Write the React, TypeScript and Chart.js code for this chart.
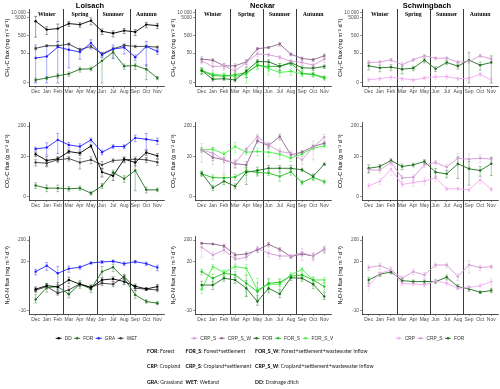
import React, { useEffect, useRef } from 'react';
import { Chart, LinearScale, registerables } from 'chart.js';

// ---------- categories / labels ----------
const MONTHS = ['Dec', 'Jan', 'Feb', 'Mar', 'Apr', 'May', 'Jun', 'Jul', 'Aug', 'Sep', 'Oct', 'Nov'];
const SEASONS = ['Winter', 'Spring', 'Summer', 'Autumn'];
const SEASON_AT = [1, 4, 7, 10];
const SEASON_BREAKS = [2.5, 5.5, 8.5];
const SITES = ['Loisach', 'Neckar', 'Schwingbach'];
const SITE_KEYS = [
  ['DD', 'FOR', 'GRA', 'WET'],
  ['CRP_S', 'CRP_S_W', 'FOR', 'FOR_S', 'FOR_S_W'],
  ['CRP', 'CRP_S', 'FOR'],
];
const CH4_TICKS = [0, 50, 500, 5000, 10000];
const CH4_TICK_LABELS = ['0', '50', '500', '5000', '10 000'];
const CO2_TICKS = [0, 20, 200];
const CO2_TICK_LABELS = ['0', '20', '200'];
const N2O_TICKS = [-10, 20, 200];
const N2O_TICK_LABELS = ['-10', '20', '200'];
const Y_TITLES = ['CH\u2084-C flux (mg m\u207B\u00B2 d\u207B\u00B9)', 'CO\u2082-C flux (g m\u207B\u00B2 d\u207B\u00B9)', 'N\u2082O-N flux (mg m\u207B\u00B2 d\u207B\u00B9)'];

// ---------- Loisach ----------
const L_CH4_DD = [3200, 1070, 1220, 2350, 2060, 3490, 860, 660, 940, 790, 2060, 1810];
const L_CH4_DD_ERR = [2800, 500, 1000, 700, 600, 1500, 300, 250, 300, 300, 700, 600];
const L_CH4_FOR = [0.8, 1.4, 2.2, 3.0, 5.9, 6.2, 18, 56, 8.9, 9.7, 5.9, 1.4];
const L_CH4_FOR_ERR = [0.5, 0.5, 0.8, 1, 2, 1.5, 25, 30, 3, 4, 5, 0.5];
const L_CH4_GRA = [26, 32, 109, 77, 57, 185, 40, 84, 104, 29, 119, 62];
const L_CH4_GRA_ERR = [120, 87, 120, 70, 35, 100, 12, 60, 60, 10, 110, 20];
const L_CH4_WET = [92, 130, 130, 162, 77, 119, 45, 88, 136, 119, 119, 109];
const L_CH4_WET_ERR = [15, 15, 15, 20, 15, 20, 10, 20, 20, 20, 20, 15];

const L_CO2_DD = [24, 14.9, 16.9, 29.3, 25.9, 44.9, 6.1, 4.5, 16.5, 12.8, 27.2, 21.2];
const L_CO2_DD_ERR = [4, 5, 3, 4, 4, 6, 2, 1.5, 3, 3, 5, 4];
const L_CO2_FOR = [1.85, 1.34, 1.34, 1.22, 1.34, 0.5, 1.78, 5.9, 3.55, 6.9, 1.04, 1.04];
const L_CO2_FOR_ERR = [0.6, 0.6, 0.6, 0.4, 0.4, 0.3, 0.5, 1.2, 1, 6, 0.5, 0.3];
const L_CO2_GRA = [35.8, 39.6, 70.4, 48.4, 42.7, 70.4, 27.9, 42.7, 42.7, 81.8, 74.1, 65.3];
const L_CO2_GRA_ERR = [5, 17, 45, 10, 10, 10, 5, 6, 6, 20, 40, 15];
const L_CO2_WET = [12.8, 12.2, 15.7, 17.3, 12.8, 15.7, 10.7, 14.9, 15.7, 16.5, 15.7, 13.1];
const L_CO2_WET_ERR = [3, 3, 3, 3, 5, 4, 3, 2, 3, 3, 3, 3];

const L_N2O_DD = [-0.02, 0.76, 0.47, 2.31, 1.09, 0.32, 2.31, 2.66, 1.8, 0.62, 0.02, 0.54];
const L_N2O_DD_ERR = [0.5, 0.5, 0.5, 1, 0.5, 0.5, 0.8, 0.8, 0.8, 0.5, 0.3, 0.5];
const L_N2O_FOR = [-2.77, 0.32, 0.54, -1.17, 1.17, 0.02, 6.4, 10.4, 2.9, -1.34, -3.58, -4.39];
const L_N2O_FOR_ERR = [1.5, 1, 1, 1, 1, 0.8, 5, 4, 1.5, 1, 0.8, 0.8];
const L_N2O_GRA = [6.4, 12.5, 5.3, 9.0, 10.4, 16.7, 18.6, 20.1, 15.5, 19.3, 15.5, 10.1];
const L_N2O_GRA_ERR = [2, 5, 6, 3, 2, 2, 3, 3, 3, 3, 3, 3];
const L_N2O_WET = [-0.25, 0.54, -0.92, -0.18, 1.17, 0.4, 1.34, 1.09, 3.58, 0.18, -0.02, -0.18];
const L_N2O_WET_ERR = [0.5, 0.5, 0.5, 0.8, 0.5, 0.5, 0.6, 0.6, 1, 0.5, 0.3, 0.4];

// ---------- Neckar ----------
const N_CH4_CRP_S = [18, 8.5, 8.9, 4.6, 14.5, 45, 40, 29, 16.5, 14.5, 10.2, 22.4];
const N_CH4_CRP_S_ERR = [6, 4, 4, 3, 6, 15, 8, 7, 5, 4, 3, 8];
const N_CH4_CRP_S_W = [22.4, 19.7, 9.3, 9.3, 15.8, 88, 104, 162, 43, 24.6, 20.6, 35];
const N_CH4_CRP_S_W_ERR = [8, 4, 3, 3, 5, 15, 15, 40, 8, 5, 4, 10];
const N_CH4_FOR = [4.9, 1.0, 1.2, 0.8, 4.6, 16.5, 15.8, 8.9, 14.5, 7.1, 6.8, 8.5];
const N_CH4_FOR_ERR = [2, 0.5, 0.5, 0.5, 3, 5, 5, 4, 4, 2, 2, 2];
const N_CH4_FOR_S = [4.9, 2.3, 2.0, 2.6, 3.6, 9.7, 8.5, 8.5, 13.2, 3.2, 2.8, 1.6];
const N_CH4_FOR_S_ERR = [2, 1, 1, 1, 2, 4, 4, 4, 4, 1, 1, 0.5];
const N_CH4_FOR_S_W = [4.9, 2.8, 2.4, 2.0, 2.8, 11, 6.5, 3.7, 4.4, 3.0, 2.7, 1.2];
const N_CH4_FOR_S_W_ERR = [2, 1, 1, 1, 3, 4, 4, 2, 2, 1, 1, 0.5];

const N_CO2_CRP_S = [33.2, 25.9, 15.7, 12.2, 34.9, 90.5, 48.4, 29.3, 25.9, 15.7, 40.6, 86];
const N_CO2_CRP_S_ERR = [20, 15, 10, 4, 5, 15, 10, 8, 5, 5, 25, 20];
const N_CO2_CRP_S_W = [33.2, 18.7, 15.7, 11.6, 10.7, 65.3, 46, 90.5, 22.8, 27.9, 42.7, 54.8];
const N_CO2_CRP_S_W_ERR = [5, 4, 3, 3, 3, 10, 8, 20, 4, 4, 5, 6];
const N_CO2_FOR = [5.6, 1.4, 2.8, 1.7, 6.05, 6.9, 8.2, 8.2, 8.2, 7.3, 4.3, 11.3];
const N_CO2_FOR_ERR = [1, 0.5, 0.8, 0.5, 4, 2, 2, 2, 2, 1, 1, 1];
const N_CO2_FOR_S = [5.3, 3.9, 3.8, 4.1, 6.7, 5.9, 5.6, 4.3, 6.2, 2.5, 4.0, 2.7];
const N_CO2_FOR_S_ERR = [1, 1, 1, 1, 2, 1.5, 1, 1.5, 1.5, 0.5, 1, 0.5];
const N_CO2_FOR_S_W = [33.2, 34.9, 24.6, 42.7, 27.9, 29.3, 27.9, 24, 17.8, 24.6, 37.7, 44.9];
const N_CO2_FOR_S_W_ERR = [5, 5, 4, 15, 5, 8, 8, 8, 4, 4, 5, 6];

const N_N2O_CRP_S = [91, 39.7, 68, 24.9, 30.9, 81.5, 47.5, 35.6, 35.6, 51, 35.6, 75.9];
const N_N2O_CRP_S_ERR = [60, 15, 20, 10, 8, 20, 15, 10, 8, 30, 15, 30];
const N_N2O_CRP_S_W = [140, 130, 105, 39.7, 44.3, 68, 125, 73, 33.2, 44.3, 35.6, 73];
const N_N2O_CRP_S_W_ERR = [15, 10, 20, 10, 10, 15, 30, 15, 5, 8, 10, 20];
const N_N2O_FOR = [0.9, 0.9, 2.9, 2.31, 0.18, -3.58, 0.18, -1.09, 3.11, 2.9, 1.09, -1.8];
const N_N2O_FOR_ERR = [1, 1, 1, 1, 2, 2, 1, 1, 1, 1, 1, 1];
const N_N2O_FOR_S = [6.4, 2.9, 5.3, 4.4, 1.34, -0.54, 1.34, 1.61, 3.7, 4.4, 2.31, 0.54];
const N_N2O_FOR_S_ERR = [2, 2, 2, 2, 3, 2, 1.5, 1, 1, 1, 1, 1];
const N_N2O_FOR_S_W = [-0.02, 11.2, 5.74, 11.2, 9.3, -0.18, 1.09, 1.09, 4.4, 8.3, 2.31, 2.31];
const N_N2O_FOR_S_W_ERR = [1, 3, 2, 3, 5, 3, 1.5, 1.5, 1.5, 2, 1, 1];

// ---------- Schwingbach ----------
const S_CH4_CRP = [0.9, 1.2, 1.6, 1.2, 0.8, 1.4, 1.8, 1.8, 1.2, 1.3, 2.8, 0.8];
const S_CH4_CRP_ERR = [0.5, 0.5, 0.8, 0.5, 0.5, 0.5, 0.8, 0.8, 0.5, 0.5, 1, 0.8];
const S_CH4_CRP_S = [14.5, 15.2, 20.6, 10.7, 20.6, 35, 25.7, 25.7, 15.2, 16.5, 35, 22.4];
const S_CH4_CRP_S_ERR = [4, 4, 5, 4, 4, 6, 5, 5, 4, 4, 8, 5];
const S_CH4_FOR = [9.3, 7.1, 7.8, 5.9, 6.8, 19.7, 6.2, 14.5, 8.9, 19.7, 10.2, 14.5];
const S_CH4_FOR_ERR = [4, 3, 3, 3, 2, 6, 2, 4, 3, 35, 5, 20];

const S_CO2_CRP = [1.78, 2.8, 7.7, 2.05, 2.5, 2.9, 3.8, 1.22, 1.22, 1.04, 3.2, 1.13];
const S_CO2_CRP_ERR = [0.5, 0.8, 3, 0.5, 0.8, 1, 1, 0.3, 0.3, 0.3, 1, 0.3];
const S_CO2_CRP_S = [7.3, 7.1, 13.1, 3.8, 4.0, 10.7, 12.8, 9.0, 17.8, 16.5, 17.8, 16.5];
const S_CO2_CRP_S_ERR = [1.5, 1.5, 2, 1, 1, 2, 2, 2, 8, 8, 5, 3];
const S_CO2_FOR = [8.2, 9.4, 14.9, 9.4, 10.7, 13.8, 6.05, 5.3, 11.6, 7.9, 6.9, 11.6];
const S_CO2_FOR_ERR = [2.5, 1.5, 2, 2, 1.5, 2, 2, 1.5, 8, 6, 2.5, 7];

const S_N2O_CRP = [0.76, 5.3, 7.8, 1.34, 1.17, 0.9, 1.99, 1.34, 0.18, 0.32, 0.76, 1.8];
const S_N2O_CRP_ERR = [1, 1.5, 2, 0.5, 0.5, 0.5, 0.5, 0.5, 0.3, 0.5, 0.5, 1];
const S_N2O_CRP_S = [10.1, 12.5, 7.8, 2.9, 6.4, 4.4, 13.4, 13.4, 3.58, 13.4, 10.1, 11.2];
const S_N2O_CRP_S_ERR = [3, 4, 3, 1, 2, 1.5, 3, 3, 1.5, 8, 3, 2];
const S_N2O_FOR = [2.31, 4.74, 6.2, 2.1, 1.8, 1.8, 1.8, 3.3, 0.54, 0.02, -0.69, -0.32];
const S_N2O_FOR_ERR = [1, 1, 1, 0.5, 0.5, 0.5, 0.5, 1, 0.5, 0.5, 0.3, 0.5];

// ---------- glossary ----------
const GLOSSARY = [
  [['FOR', 'Forest'], ['FOR_S', 'Forest+settlement'], ['FOR_S_W', 'Forest+settlement+wastewater inflow']],
  [['CRP', 'Cropland'], ['CRP_S', 'Cropland+settlement'], ['CRP_S_W', 'Cropland+settlement+wastewater inflow']],
  [['GRA', 'Grassland'], ['WET', 'Wetland'], ['DD', 'Drainage ditch']],
];

// ---------- styles ----------
const COLORS: Record<string, string> = {
  DD: '#000000', WET: '#3c3c3c', FOR: '#1e701e', GRA: '#2020ff',
  CRP: '#f0a8f0', CRP_S: '#d39ad3', CRP_S_W: '#8f668f', FOR_S: '#20c020', FOR_S_W: '#44f044',
};
const FONT = '"Liberation Sans", Arial, sans-serif';

// data table [row][col] -> key -> [values, errors]
const TABLE: Record<string, [number[], number[]]>[][] = [
  [
    { DD: [L_CH4_DD, L_CH4_DD_ERR], FOR: [L_CH4_FOR, L_CH4_FOR_ERR], GRA: [L_CH4_GRA, L_CH4_GRA_ERR], WET: [L_CH4_WET, L_CH4_WET_ERR] },
    { CRP_S: [N_CH4_CRP_S, N_CH4_CRP_S_ERR], CRP_S_W: [N_CH4_CRP_S_W, N_CH4_CRP_S_W_ERR], FOR: [N_CH4_FOR, N_CH4_FOR_ERR], FOR_S: [N_CH4_FOR_S, N_CH4_FOR_S_ERR], FOR_S_W: [N_CH4_FOR_S_W, N_CH4_FOR_S_W_ERR] },
    { CRP: [S_CH4_CRP, S_CH4_CRP_ERR], CRP_S: [S_CH4_CRP_S, S_CH4_CRP_S_ERR], FOR: [S_CH4_FOR, S_CH4_FOR_ERR] },
  ],
  [
    { DD: [L_CO2_DD, L_CO2_DD_ERR], FOR: [L_CO2_FOR, L_CO2_FOR_ERR], GRA: [L_CO2_GRA, L_CO2_GRA_ERR], WET: [L_CO2_WET, L_CO2_WET_ERR] },
    { CRP_S: [N_CO2_CRP_S, N_CO2_CRP_S_ERR], CRP_S_W: [N_CO2_CRP_S_W, N_CO2_CRP_S_W_ERR], FOR: [N_CO2_FOR, N_CO2_FOR_ERR], FOR_S: [N_CO2_FOR_S, N_CO2_FOR_S_ERR], FOR_S_W: [N_CO2_FOR_S_W, N_CO2_FOR_S_W_ERR] },
    { CRP: [S_CO2_CRP, S_CO2_CRP_ERR], CRP_S: [S_CO2_CRP_S, S_CO2_CRP_S_ERR], FOR: [S_CO2_FOR, S_CO2_FOR_ERR] },
  ],
  [
    { DD: [L_N2O_DD, L_N2O_DD_ERR], FOR: [L_N2O_FOR, L_N2O_FOR_ERR], GRA: [L_N2O_GRA, L_N2O_GRA_ERR], WET: [L_N2O_WET, L_N2O_WET_ERR] },
    { CRP_S: [N_N2O_CRP_S, N_N2O_CRP_S_ERR], CRP_S_W: [N_N2O_CRP_S_W, N_N2O_CRP_S_W_ERR], FOR: [N_N2O_FOR, N_N2O_FOR_ERR], FOR_S: [N_N2O_FOR_S, N_N2O_FOR_S_ERR], FOR_S_W: [N_N2O_FOR_S_W, N_N2O_FOR_S_W_ERR] },
    { CRP: [S_N2O_CRP, S_N2O_CRP_ERR], CRP_S: [S_N2O_CRP_S, S_N2O_CRP_S_ERR], FOR: [S_N2O_FOR, S_N2O_FOR_ERR] },
  ],
];

const ROW_CFG = [
  { ticks: CH4_TICKS, labels: CH4_TICK_LABELS, lim: [0, 10000], floor: 0 },
  { ticks: CO2_TICKS, labels: CO2_TICK_LABELS, lim: [0, 200], floor: 0 },
  { ticks: N2O_TICKS, labels: N2O_TICK_LABELS, lim: [-10, 200], floor: -1e9 },
];

// layout
const COL_LEFT = [0, 166, 333];
const COL_W = [166, 167, 167];
const ROW_TOP = [0, 104, 218];
const ROW_H = [104, 114, 171];
const PAD_TOP = [9, 18.5, 18.5];
const X_AXIS_H = [17.5, 18, 75];
const TITLE_X = [90, 262.5, 427];

// ---------- pseudo-log scale (asinh, sigma 1, base 10) ----------
const tf = (v: number) => Math.asinh(v / 2) / Math.LN10;
const itf = (t: number) => 2 * Math.sinh(t * Math.LN10);

class PseudoLogScale extends LinearScale {
  static id = 'pseudoLog';
  static defaults = LinearScale.defaults;
  getPixelForValue(value: number) {
    const a = tf(this.min as number);
    const b = tf(this.max as number);
    return this.getPixelForDecimal((tf(value) - a) / (b - a));
  }
  getValueForPixel(pixel: number) {
    const a = tf(this.min as number);
    const b = tf(this.max as number);
    return itf(a + this.getDecimalForPixel(pixel) * (b - a));
  }
}

const decoPlugin = {
  id: 'deco',
  beforeDatasetsDraw(chart: any, _a: any, opts: any) {
    const { ctx, chartArea, scales } = chart;
    const x = scales.x;
    const y = scales.y;
    // season dividers
    const y0 = opts.row === 0 ? chartArea.top : 0;
    const y1 = opts.row === 2 ? chartArea.bottom : chart.height;
    ctx.save();
    ctx.strokeStyle = '#3a3a3a';
    ctx.lineWidth = 1;
    SEASON_BREAKS.forEach((b) => {
      const px = Math.round(x.getPixelForValue(b)) + 0.5;
      ctx.beginPath();
      ctx.moveTo(px, y0);
      ctx.lineTo(px, y1);
      ctx.stroke();
    });
    ctx.restore();
    // error bars
    ctx.save();
    ctx.beginPath();
    ctx.rect(chartArea.left, chartArea.top, chartArea.right - chartArea.left, chartArea.bottom - chartArea.top);
    ctx.clip();
    chart.data.datasets.forEach((ds: any) => {
      ctx.strokeStyle = ds.errColor;
      ctx.lineWidth = 0.7;
      ds.data.forEach((p: any, i: number) => {
        const e = ds.errs[i];
        const lo = Math.max(p.y - e, opts.floor);
        const hi = p.y + e;
        const px = x.getPixelForValue(p.x);
        const pl = y.getPixelForValue(lo);
        const ph = y.getPixelForValue(hi);
        ctx.beginPath();
        ctx.moveTo(px, pl); ctx.lineTo(px, ph);
        ctx.moveTo(px - 1.5, pl); ctx.lineTo(px + 1.5, pl);
        ctx.moveTo(px - 1.5, ph); ctx.lineTo(px + 1.5, ph);
        ctx.stroke();
      });
    });
    ctx.restore();
  },
  afterDraw(chart: any, _a: any, opts: any) {
    const { ctx, chartArea, scales } = chart;
    const x = scales.x;
    ctx.save();
    if (opts.row === 0) {
      ctx.fillStyle = '#000';
      ctx.textAlign = 'center';
      ctx.textBaseline = 'middle';
      ctx.font = `bold 7.5px ${FONT}`;
      ctx.fillText(opts.title, opts.titleX, 6);
      ctx.font = 'bold 5.8px "Liberation Serif", "DejaVu Serif", serif';
      SEASONS.forEach((s, i) => {
        ctx.fillText(s, x.getPixelForValue(SEASON_AT[i]), chartArea.top + 6);
      });
    }
    if (opts.row === 2) {
      ctx.font = `4.8px ${FONT}`;
      ctx.textBaseline = 'middle';
      ctx.textAlign = 'left';
      const items = chart.data.datasets.map((d: any) => ({ label: d.label, color: d.borderColor }));
      const widths = items.map((it: any) => 9 + ctx.measureText(it.label).width + 2.5);
      const total = widths.reduce((a: number, b: number) => a + b, 0) - 2.5;
      let cx = (chartArea.left + chartArea.right) / 2 - total / 2;
      const ly = opts.legendY;
      items.forEach((it: any, i: number) => {
        ctx.strokeStyle = it.color;
        ctx.fillStyle = it.color;
        ctx.lineWidth = 0.9;
        ctx.beginPath();
        ctx.moveTo(cx, ly); ctx.lineTo(cx + 6, ly);
        ctx.stroke();
        ctx.beginPath();
        ctx.arc(cx + 3, ly, 1.2, 0, Math.PI * 2);
        ctx.fill();
        ctx.fillStyle = '#333';
        ctx.fillText(it.label, cx + 9, ly);
        cx += widths[i];
      });
    }
    ctx.restore();
  },
};

Chart.register(...registerables, PseudoLogScale as any, decoPlugin as any);

function hexA(hex: string, a: number) {
  const n = parseInt(hex.slice(1), 16);
  return `rgba(${(n >> 16) & 255},${(n >> 8) & 255},${n & 255},${a})`;
}

function makeConfig(row: number, col: number): any {
  const cfg = ROW_CFG[row];
  const a = tf(cfg.lim[0]);
  const b = tf(cfg.lim[1]);
  const d = 0.05 * (b - a);
  const keys = SITE_KEYS[col];
  const table = TABLE[row][col];
  const datasets = keys.map((k) => {
    const [vals, errs] = table[k];
    return {
      label: k,
      data: vals.map((v, i) => ({ x: i, y: v })),
      errs,
      errColor: hexA(COLORS[k], 0.55),
      borderColor: COLORS[k],
      backgroundColor: COLORS[k],
      borderWidth: 0.9,
      pointRadius: 1.2,
      pointBorderWidth: 0,
      pointHoverRadius: 1.2,
      tension: 0,
      clip: 3,
    };
  });
  const tickColor = '#4d4d4d';
  return {
    type: 'line',
    data: { datasets },
    options: {
      animation: false,
      responsive: false,
      devicePixelRatio: 1,
      events: [],
      layout: { padding: { top: PAD_TOP[row], right: 2, left: 0, bottom: 0 } },
      plugins: {
        legend: { display: false },
        tooltip: { enabled: false },
        deco: {
          row,
          title: SITES[col],
          titleX: TITLE_X[col] - COL_LEFT[col],
          floor: cfg.floor,
          legendY: 338.3 - ROW_TOP[2],
        },
      },
      scales: {
        x: {
          type: 'linear',
          min: -0.6,
          max: 11.6,
          afterBuildTicks: (s: any) => { s.ticks = MONTHS.map((_, i) => ({ value: i })); },
          afterFit: (s: any) => { s.height = X_AXIS_H[row]; },
          ticks: {
            callback: (_v: any, i: number) => MONTHS[i],
            autoSkip: false, maxRotation: 0, minRotation: 0,
            font: { size: 5, family: FONT }, color: tickColor, padding: 0.5,
          },
          grid: { display: true, drawOnChartArea: false, tickLength: 2, color: tickColor, lineWidth: 0.6 },
          border: { display: true, color: '#222', width: 0.8 },
        },
        y: {
          type: 'pseudoLog',
          min: itf(a - d),
          max: itf(b + d),
          afterBuildTicks: (s: any) => { s.ticks = cfg.ticks.map((v) => ({ value: v })); },
          afterFit: (s: any) => { s.width = 29; },
          ticks: {
            callback: (_v: any, i: number) => cfg.labels[i],
            autoSkip: false,
            font: { size: 4.8, family: FONT }, color: tickColor, padding: 1,
          },
          grid: { display: true, drawOnChartArea: false, tickLength: 2, color: tickColor, lineWidth: 0.6 },
          border: { display: true, color: '#222', width: 0.8 },
          title: {
            display: true,
            text: Y_TITLES[row],
            font: { size: 5.6, family: FONT },
            color: '#000',
            padding: { top: 4.5, bottom: 0 },
          },
        },
      },
    },
  };
}

const CELLS: [number, number][] = [];
for (let r = 0; r < 3; r++) for (let c = 0; c < 3; c++) CELLS.push([r, c]);

export default function App() {
  const refs = useRef<(HTMLCanvasElement | null)[]>([]);
  useEffect(() => {
    const charts = CELLS.map(([r, c], idx) => {
      const cv = refs.current[idx]!;
      return new Chart(cv, makeConfig(r, c));
    });
    return () => charts.forEach((ch) => ch.destroy());
  }, []);

  return (
    <div style={{ position: 'fixed', left: 0, top: 0, width: 500, height: 389, background: '#fff', overflow: 'hidden' }}>
      {CELLS.map(([r, c], idx) => (
        <canvas
          key={idx}
          ref={(el) => { refs.current[idx] = el; }}
          width={COL_W[c]}
          height={ROW_H[r]}
          style={{ position: 'absolute', left: COL_LEFT[c], top: ROW_TOP[r], width: COL_W[c], height: ROW_H[r] }}
        />
      ))}
      {GLOSSARY.map((line, li) =>
        line.map(([abbr, desc], ci) => (
          <div
            key={`${li}-${ci}`}
            style={{
              position: 'absolute',
              left: [147, 185.5, 255][ci],
              top: [351.7, 367.3, 382.7][li],
              transform: 'translateY(-50%)',
              fontFamily: 'Lato, "Liberation Sans", sans-serif',
              fontSize: 5.2,
              lineHeight: 1,
              whiteSpace: 'nowrap',
              color: '#222',
            }}
          >
            <b style={{ color: '#000' }}>{abbr}</b>: {desc}
          </div>
        ))
      )}
    </div>
  );
}
